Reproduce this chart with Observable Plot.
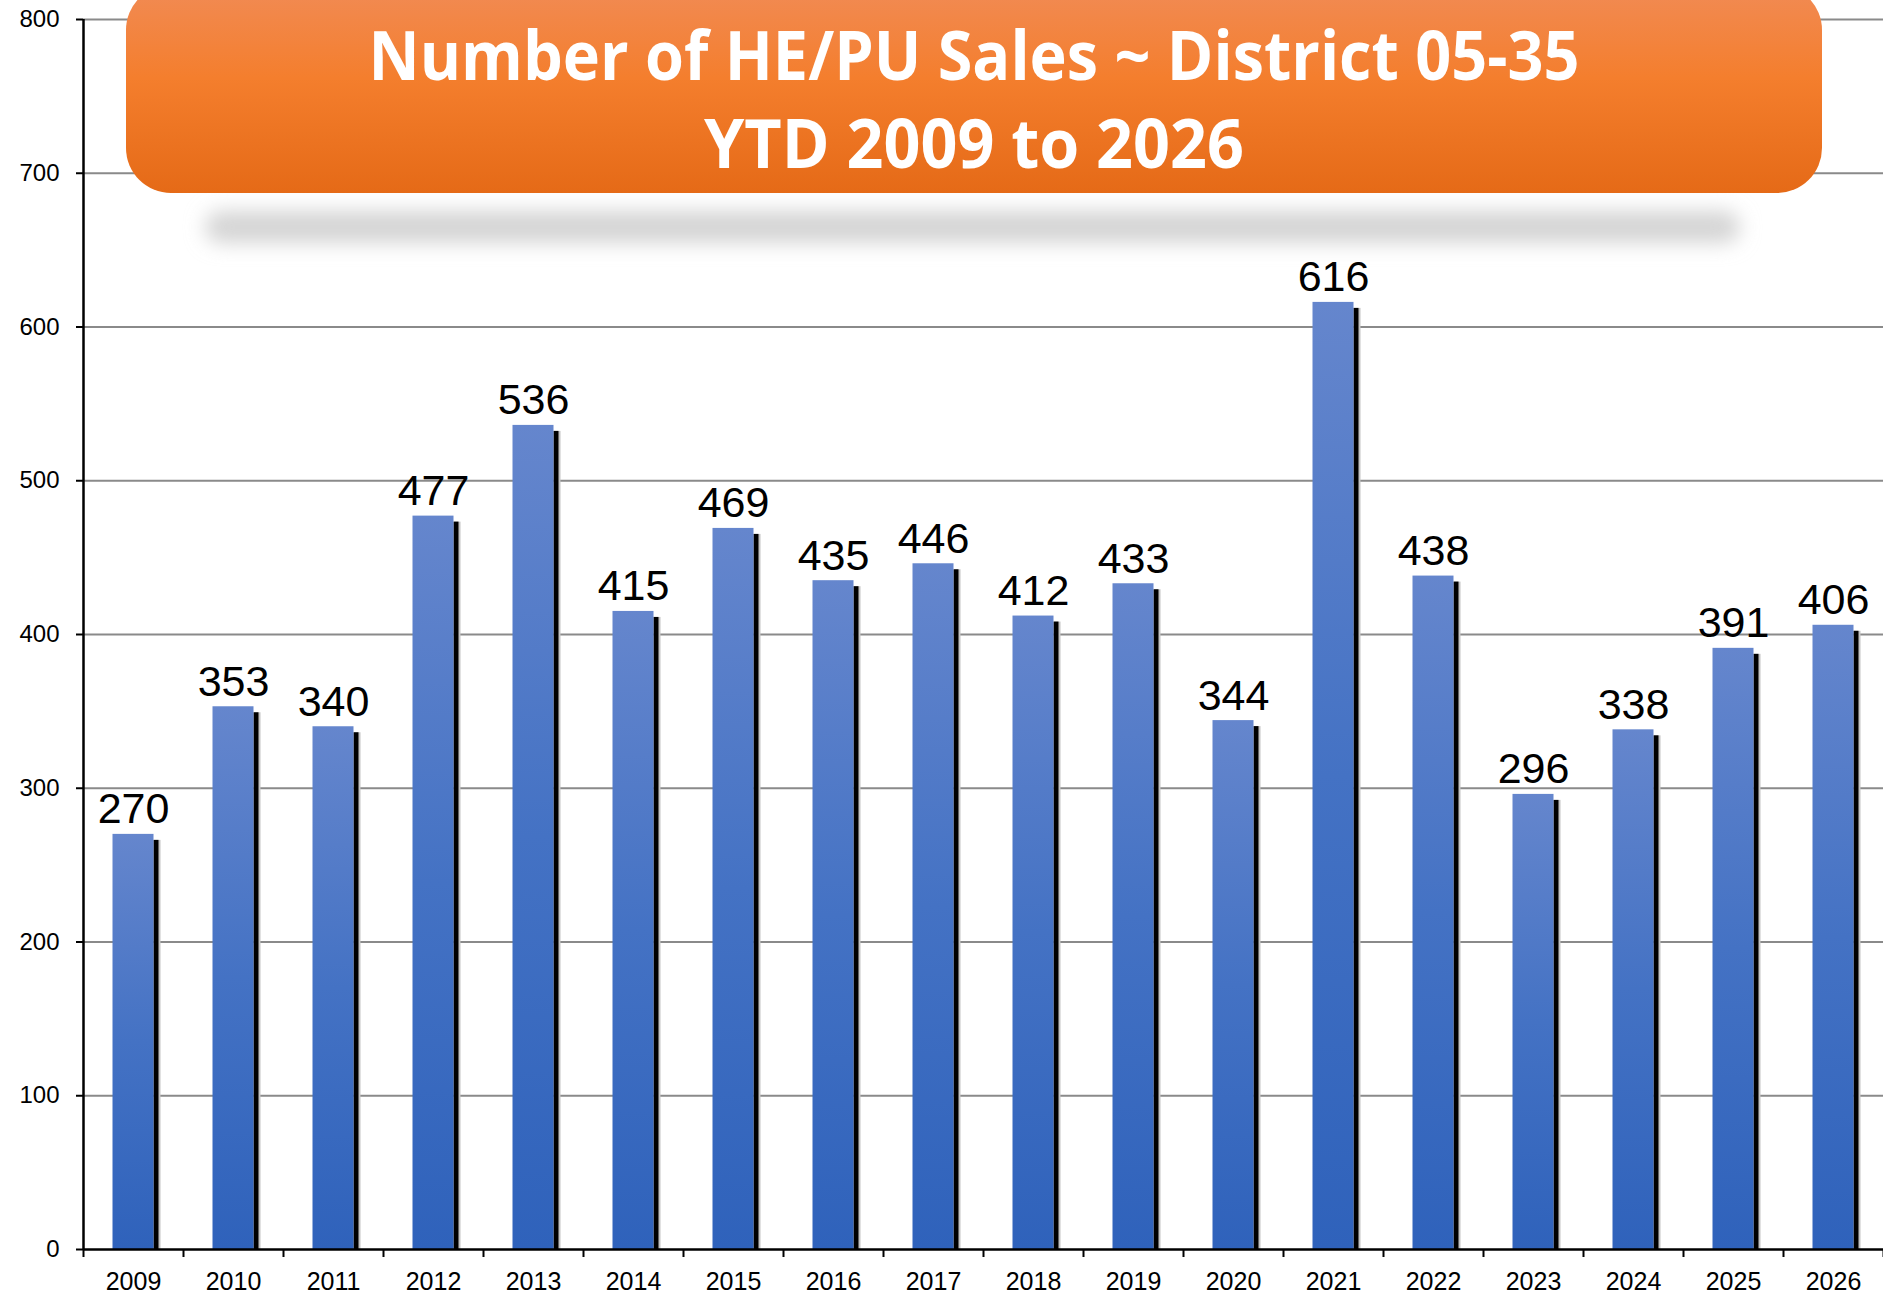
<!DOCTYPE html>
<html>
<head>
<meta charset="utf-8">
<script src="https://cdn.jsdelivr.net/npm/d3@7"></script>
<script src="https://cdn.jsdelivr.net/npm/@observablehq/plot@0.6"></script>
<style>
  html, body { margin: 0; padding: 0; background: #fff; }
  #wrap { position: relative; width: 1883px; height: 1303px; overflow: hidden; }
  #wrap > svg { position: absolute; left: 0; top: 0; }
</style>
</head>
<body>
<svg width="0" height="0" style="position:absolute">
  <defs>
    <linearGradient id="barGrad" x1="0" y1="0" x2="0" y2="1">
      <stop offset="0" stop-color="#6586cd"/>
      <stop offset="0.5" stop-color="#4472c4"/>
      <stop offset="1" stop-color="#2f62bb"/>
    </linearGradient>
    <linearGradient id="titleGrad" x1="0" y1="0" x2="0" y2="1">
      <stop offset="0" stop-color="#f18b55"/>
      <stop offset="0.45" stop-color="#f47e2d"/>
      <stop offset="1" stop-color="#e56a17"/>
    </linearGradient>
    <filter id="titleShadowBlur" x="-10%" y="-200%" width="120%" height="500%">
      <feGaussianBlur stdDeviation="10"/>
    </filter>
  </defs>
</svg>
<div id="wrap"></div>
<script>
// ---- data ----
const years = [2009, 2010, 2011, 2012, 2013, 2014, 2015, 2016, 2017, 2018, 2019, 2020, 2021, 2022, 2023, 2024, 2025, 2026];
const sales = [270, 353, 340, 477, 536, 415, 469, 435, 446, 412, 433, 344, 616, 438, 296, 338, 391, 406];
const yTicks = [0, 100, 200, 300, 400, 500, 600, 700, 800];
const titleLines = ["Number of HE/PU Sales ~ District 05-35", "YTD 2009 to 2026"];

const data = years.map((year, i) => ({year, value: sales[i]}));
const half = 0.205;      // half bar width in band units
const shadowW = 0.05;    // shadow strip width in band units
const edges = years.map(y => y - 0.5).concat([years[years.length - 1] + 0.5]);

const chart = Plot.plot({
  width: 1883,
  height: 1303,
  marginLeft: 83,
  marginRight: 0,
  marginTop: 19,
  marginBottom: 54,
  style: {fontFamily: "'Liberation Sans', Arial, sans-serif", background: "transparent", color: "#000"},
  x: {type: "linear", domain: [edges[0], edges[edges.length - 1]]},
  y: {domain: [0, 800]},
  marks: [
    Plot.ruleY(yTicks.filter(d => d > 0), {stroke: "#8a8a8a", strokeWidth: 2}),
    Plot.rect(data, {x1: d => d.year + half, x2: d => d.year + half + shadowW + 0.02, y1: 0, y2: "value", insetTop: 6, fill: "#c4c4c4"}),
    Plot.rect(data, {x1: d => d.year + half, x2: d => d.year + half + shadowW, y1: 0, y2: "value", insetTop: 6, fill: "#000"}),
    Plot.rect(data, {x1: d => d.year - half, x2: d => d.year + half, y1: 0, y2: "value", fill: "url(#barGrad)"}),
    Plot.text(data, {x: "year", y: "value", text: d => String(d.value), lineAnchor: "bottom", dy: -11, fontSize: 43, fill: "#000"}),
    Plot.axisY(yTicks, {tickSize: 7, tickPadding: 17, fontSize: 24, strokeWidth: 2, tickFormat: d => String(d), label: null}),
    Plot.axisX(edges, {tickSize: 8, tickFormat: () => "", strokeWidth: 2, label: null}),
    Plot.axisX(years, {tickSize: 0, tickPadding: 23, fontSize: 25, tickFormat: d => String(d), label: null}),
    Plot.ruleX([edges[0]], {stroke: "#000", strokeWidth: 2.5}),
    Plot.ruleY([0], {stroke: "#000", strokeWidth: 2.5})
  ]
});
document.getElementById("wrap").appendChild(chart);

// ---- title banner overlay ----
const banner = d3.select("#wrap").append("svg")
  .attr("width", 1883)
  .attr("height", 270);
banner.append("rect")
  .attr("x", 205).attr("y", 211).attr("width", 1535).attr("height", 32).attr("rx", 16)
  .attr("fill", "#d4d4d4").attr("filter", "url(#titleShadowBlur)");
banner.append("rect")
  .attr("x", 126).attr("y", -15).attr("width", 1696).attr("height", 208).attr("rx", 45)
  .attr("fill", "url(#titleGrad)");
const lineSpecs = [{y: 80, w: 1211}, {y: 168, w: 540}];
titleLines.forEach((t, i) => {
  banner.append("text")
    .attr("x", 974).attr("y", lineSpecs[i].y)
    .attr("text-anchor", "middle")
    .attr("textLength", lineSpecs[i].w)
    .attr("lengthAdjust", "spacingAndGlyphs")
    .attr("fill", "#fff")
    .attr("font-family", "'Open Sans', sans-serif")
    .attr("font-weight", 700)
    .attr("font-size", 68)
    .text(t);
});
</script>
</body>
</html>
